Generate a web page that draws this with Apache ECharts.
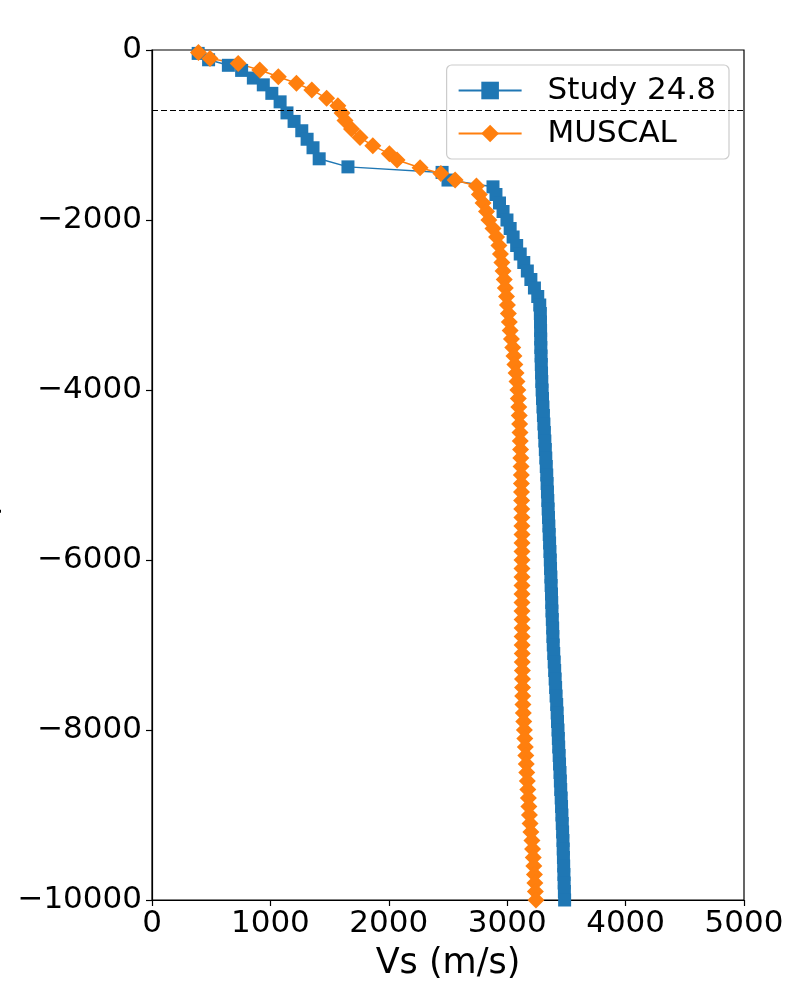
<!DOCTYPE html>
<html>
<head>
<meta charset="utf-8">
<script src="https://cdn.jsdelivr.net/npm/echarts@6/dist/echarts.min.js"></script>
<style>
html,body{margin:0;padding:0;background:#fff;}
#chart{width:800px;height:1000px;}
</style>
</head>
<body>
<div id="chart"></div>
<script>
// ---- Data ----
const studyDepth = [-40,-115,-180,-240,-330,-410,-510,-610,-740,-840,-950,-1050,-1150,-1280,-1375,-1440,-1530,-1610,
  -1700,-1800,-1900,-2000,-2100,-2200,-2300,-2400,-2500,-2600,-2700,-2800,-2900,-3000,
  -3100,-3200,-3300,-3400,-3500,-3600,-3700,-3800,-3900,-4000,
  -4100,-4200,-4300,-4400,-4500,-4600,-4700,-4800,-4900,-5000,
  -5100,-5200,-5300,-5400,-5500,-5600,-5700,-5800,-5900,-6000,
  -6100,-6200,-6300,-6400,-6500,-6600,-6700,-6800,-6900,-7000,
  -7100,-7200,-7300,-7400,-7500,-7600,-7700,-7800,-7900,-8000,
  -8100,-8200,-8300,-8400,-8500,-8600,-8700,-8800,-8900,-9000,
  -9100,-9200,-9300,-9400,-9500,-9600,-9700,-9800,-9900,-10000];
const studyVs = [390,478,645,757,856,940,1012,1082,1140,1200,1265,1310,1360,1412,1655,2450,2500,2880,
  2905,2935,2965,2998,3025,3050,3080,3110,3140,3170,3200,3230,3258,3275,
  3280,3281,3282,3283,3284,3286,3288,3290,3292,3295,
  3298,3302,3306,3310,3314,3318,3322,3326,3330,3334,
  3337,3340,3343,3346,3349,3352,3355,3358,3361,3364,
  3366,3369,3371,3374,3376,3378,3381,3384,3386,3389,
  3393,3397,3401,3405,3409,3413,3418,3422,3425,3429,
  3432,3435,3439,3442,3446,3449,3452,3456,3459,3462,
  3465,3468,3471,3473,3475,3477,3479,3481,3483,3485];

const muscalDepth = [-30,-100,-160,-235,-315,-392,-470,-568,-655,-740,-830,-930,-1030,-1125,-1222,-1295,-1385,-1452,-1530,-1600,
  -1700,-1800,-1900,-2000,-2100,-2200,-2300,-2400,-2500,-2600,-2700,-2800,-2900,-3000,
  -3100,-3200,-3300,-3400,-3500,-3600,-3700,-3800,-3900,-4000,
  -4100,-4200,-4300,-4400,-4500,-4600,-4700,-4800,-4900,-5000,
  -5100,-5200,-5300,-5400,-5500,-5600,-5700,-5800,-5900,-6000,
  -6100,-6200,-6300,-6400,-6500,-6600,-6700,-6800,-6900,-7000,
  -7100,-7200,-7300,-7400,-7500,-7600,-7700,-7800,-7900,-8000,
  -8100,-8200,-8300,-8400,-8500,-8600,-8700,-8800,-8900,-9000,
  -9100,-9200,-9300,-9400,-9500,-9600,-9700,-9800,-9900,-10000];
const muscalVs = [392,490,728,910,1067,1220,1350,1475,1570,1605,1630,1685,1757,1865,2005,2070,2264,2440,2560,2740,
  2765,2796,2825,2845,2880,2910,2930,2943,2955,2965,2975,2984,2994,3002,
  3010,3018,3025,3036,3047,3057,3065,3075,3083,3090,
  3094,3098,3102,3105,3108,3110,3113,3115,3117,3119,
  3120,3121,3122,3123,3124,3124,3125,3125,3125,3125,
  3125,3125,3125,3125,3125,3125,3126,3126,3126,3126,
  3127,3127,3128,3129,3130,3131,3133,3136,3140,3145,
  3149,3153,3157,3161,3165,3170,3174,3179,3183,3188,
  3193,3200,3209,3214,3220,3225,3230,3234,3238,3243];

const xTicks = [0,1000,2000,3000,4000,5000];
const yTicks = [-10000,-8000,-6000,-4000,-2000,0];
const referenceDepth = -710;

const seriesNames = ['Study 24.8','MUSCAL'];
// ----------------------------------------

const FONT = 'DejaVu Sans';
const minus = v => String(v).replace('-', '\u2212');

const chart = echarts.init(document.getElementById('chart'), null, {renderer:'canvas'});
chart.setOption({
  animation: false,
  backgroundColor: '#fff',
  grid: {left:152, right:56, top:50, bottom:100, containLabel:false, outerBoundsMode:'none',
         show:true, borderColor:'#000', borderWidth:1.2, backgroundColor:'transparent'},
  xAxis: {
    type:'value', min:xTicks[0], max:xTicks[xTicks.length-1], interval:1000,
    name:'Vs (m/s)', nameLocation:'middle', nameGap:46,
    nameTextStyle:{fontFamily:FONT, fontSize:35, color:'#000'},
    axisLine:{show:true, onZero:false, lineStyle:{color:'#000', width:1.2}},
    axisTick:{show:true, length:6, lineStyle:{color:'#000', width:1.2}},
    axisLabel:{fontFamily:FONT, fontSize:31, color:'#000', margin:8, formatter:minus},
    splitLine:{show:false}
  },
  yAxis: {
    type:'value', min:yTicks[0], max:yTicks[yTicks.length-1], interval:2000,
    name:'Depth (m)', nameLocation:'middle', nameGap:150, nameRotate:90,
    nameTextStyle:{fontFamily:FONT, fontSize:35, color:'#000'},
    axisLine:{show:true, onZero:false, lineStyle:{color:'#000', width:1.2}},
    axisTick:{show:true, length:6, lineStyle:{color:'#000', width:1.2}},
    axisLabel:{fontFamily:FONT, fontSize:31, color:'#000', margin:10, formatter:minus},
    splitLine:{show:false}
  },
  legend: {
    orient:'vertical', right:71, top:65,
    padding:[10,13,10,11], itemGap:12, itemWidth:63, itemHeight:22,
    backgroundColor:'rgba(255,255,255,0.8)', borderColor:'#cccccc', borderWidth:1.2, borderRadius:5,
    textStyle:{fontFamily:FONT, fontSize:31, color:'#000', padding:[0,0,0,21]},
    data: seriesNames
  },
  series: [
    {
      name: seriesNames[0], type:'line',
      data: studyVs.map((v,i)=>[v, studyDepth[i]]),
      color:'#1f77b4',
      symbol:'rect', symbolSize:13,
      lineStyle:{width:1.5, color:'#1f77b4'},
      itemStyle:{color:'#1f77b4'},
      clip:true,
      markLine:{
        silent:true, symbol:['none','none'],
        label:{show:false},
        lineStyle:{color:'#000', type:[6,3], width:1.2},
        data:[{yAxis: referenceDepth}]
      }
    },
    {
      name: seriesNames[1], type:'line',
      data: muscalVs.map((v,i)=>[v, muscalDepth[i]]),
      color:'#ff7f0e',
      symbol:'diamond', symbolSize:17,
      lineStyle:{width:1.5, color:'#ff7f0e'},
      itemStyle:{color:'#ff7f0e'},
      clip:true
    }
  ]
});
</script>
</body>
</html>
